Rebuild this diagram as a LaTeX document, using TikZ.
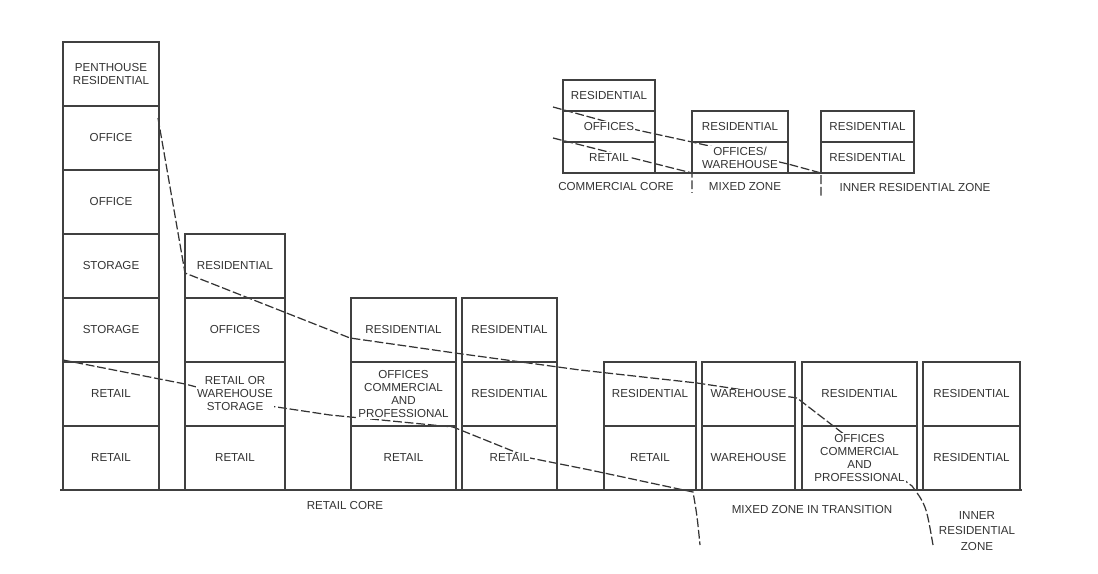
\documentclass[tikz,border=0pt]{standalone}
\usepackage{fontspec}
\setmainfont{Liberation Sans}
\begin{document}
\begin{tikzpicture}[x=0.02cm, y=-0.02cm, line width=0.7pt, draw=black!75,
    lbl/.style={font=\fontsize{6.6}{7.4}\selectfont, align=center, inner sep=0.6pt, fill=white, text=black!80},
    zonelbl/.style={font=\fontsize{6.6}{8.6}\selectfont, align=center, inner sep=0pt, text=black!80},
    zoneline/.style={draw=black!80, dash pattern=on 5pt off 1.6pt, line width=0.7pt}]
        \useasboundingbox (0,0) rectangle (1098,574);

        % Zone boundaries (drawn first, labels mask them)
        \draw[zoneline] (158,118) -- (185,273) -- (350,338) -- (455,353) -- (580,370)
          -- (697,383) -- (797,398) -- (880,462) -- (912,486) .. controls (926,505) .. (933,545);
        \draw[zoneline] (63,360) -- (185,384) -- (270,406) -- (330,415) -- (453,427)
          -- (530,458) -- (590,470) -- (693,492) .. controls (697,515) .. (700,545);
        % Small diagram boundaries
        \draw[zoneline] (553,107) -- (637,130) -- (692,142) -- (788,164) -- (821,173) -- (821,198);
        \draw[zoneline] (553,138) -- (692,173) -- (692,193);

        % Ground lines
        \draw (60,490) -- (1022,490);
        \draw (563,173) -- (914,173);

        % Retail core
        \foreach \t [count=\i] in {PENTHOUSE\\RESIDENTIAL,OFFICE,OFFICE,STORAGE,STORAGE,RETAIL,RETAIL} {
          \draw (63,{42+64*(\i-1)}) rectangle (159,{42+64*\i});
          \node[lbl] (core\i) at (111,{10+64*\i}) {\t};
        }
        \foreach \t [count=\i] in {RESIDENTIAL,OFFICES,RETAIL OR\\WAREHOUSE\\STORAGE,RETAIL} {
          \draw (185,{234+64*(\i-1)}) rectangle (285,{234+64*\i});
          \node[lbl] (coreb\i) at (235,{202+64*\i}) {\t};
        }
        \foreach \t [count=\i] in {RESIDENTIAL,OFFICES\\COMMERCIAL\\AND\\PROFESSIONAL,RETAIL} {
          \draw (351,{298+64*(\i-1)}) rectangle (456,{298+64*\i});
          \node[lbl] (corec\i) at (403.5,{266+64*\i}) {\t};
        }
        \foreach \t [count=\i] in {RESIDENTIAL,RESIDENTIAL,RETAIL} {
          \draw (462,{298+64*(\i-1)}) rectangle (557,{298+64*\i});
          \node[lbl] (cored\i) at (509.5,{266+64*\i}) {\t};
        }

        % Mixed zone in transition
        \foreach \t [count=\i] in {RESIDENTIAL,RETAIL} {
          \draw (604,{362+64*(\i-1)}) rectangle (696,{362+64*\i});
          \node[lbl] (mixa\i) at (650,{330+64*\i}) {\t};
        }
        \foreach \t [count=\i] in {WAREHOUSE,WAREHOUSE} {
          \draw (702,{362+64*(\i-1)}) rectangle (795,{362+64*\i});
          \node[lbl] (mixb\i) at (748.5,{330+64*\i}) {\t};
        }
        \foreach \t [count=\i] in {RESIDENTIAL,OFFICES\\COMMERCIAL\\AND\\PROFESSIONAL} {
          \draw (802,{362+64*(\i-1)}) rectangle (917,{362+64*\i});
          \node[lbl] (mixc\i) at (859.5,{330+64*\i}) {\t};
        }

        % Inner residential zone
        \foreach \t [count=\i] in {RESIDENTIAL,RESIDENTIAL} {
          \draw (923,{362+64*(\i-1)}) rectangle (1020,{362+64*\i});
          \node[lbl] (inner\i) at (971.5,{330+64*\i}) {\t};
        }

        % Small diagram
        \foreach \t [count=\i] in {RESIDENTIAL,OFFICES,RETAIL} {
          \draw (563,{80+31*(\i-1)}) rectangle (655,{80+31*\i});
          \node[lbl] (sma\i) at (609,{64.5+31*\i}) {\t};
        }
        \foreach \t [count=\i] in {RESIDENTIAL,OFFICES/\\WAREHOUSE} {
          \draw (692,{111+31*(\i-1)}) rectangle (788,{111+31*\i});
          \node[lbl] (smb\i) at (740,{95.5+31*\i}) {\t};
        }
        \foreach \t [count=\i] in {RESIDENTIAL,RESIDENTIAL} {
          \draw (821,{111+31*(\i-1)}) rectangle (914,{111+31*\i});
          \node[lbl] (smc\i) at (867.5,{95.5+31*\i}) {\t};
        }

        % Zone names
        \node[zonelbl] (retailcore) at (345,506) {RETAIL CORE};
        \node[zonelbl] (mixedtrans) at (812,510) {MIXED ZONE IN TRANSITION};
        \node[zonelbl] (innerres) at (977,531) {INNER\\RESIDENTIAL\\ZONE};
        \node[zonelbl] (comcore) at (616,187) {COMMERCIAL CORE};
        \node[zonelbl] (mixedzone) at (745,187) {MIXED ZONE};
        \node[zonelbl] (innerzone) at (915,188) {INNER RESIDENTIAL ZONE};
\end{tikzpicture}
\end{document}
